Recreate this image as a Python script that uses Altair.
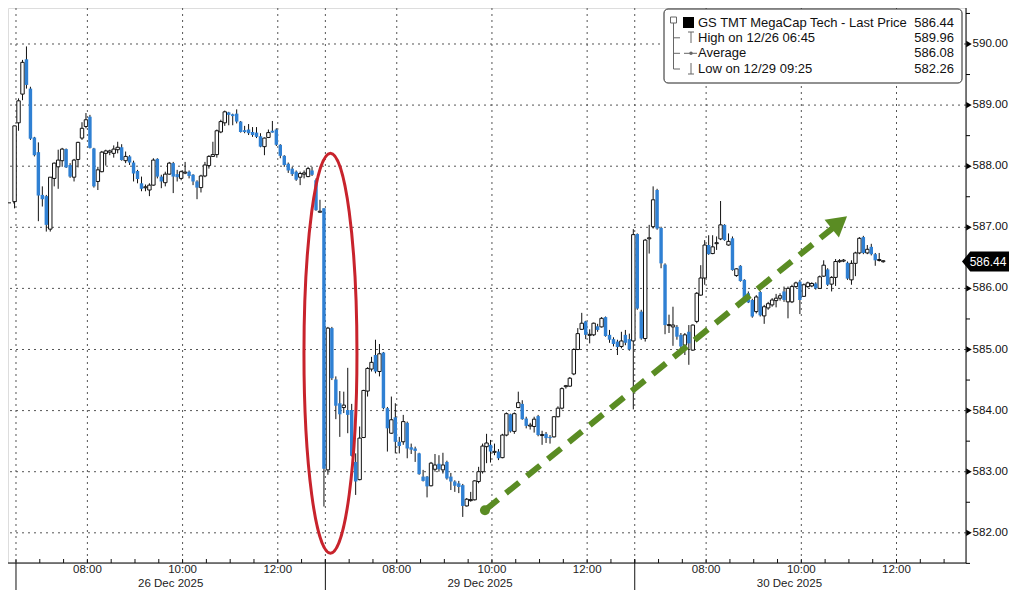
import altair as alt
import pandas as pd

# ---------------- data ----------------
SESSION_DATES = ["26 Dec 2025", "29 Dec 2025", "30 Dec 2025"]
TIME_TICK_LABELS = ["08:00", "10:00", "12:00"]
TIME_TICK_HOURS = [8.0, 10.0, 12.0]
SESSION_OPEN_HOUR = 6.5
SESSION_LENGTH = 6.5
BAR_MINUTES = 5
PRICE_TICKS = [582, 583, 584, 585, 586, 587, 588, 589, 590]
PREV_CLOSE = 587.40
LAST_PRICE = 586.44

LEGEND_LABELS = ["GS TMT MegaCap Tech - Last Price", "High on 12/26 06:45", "Average", "Low on 12/29 09:25"]
LEGEND_VALUES = ["586.44", "589.96", "586.08", "582.26"]

D26_OPEN = [587.42, 588.71, 589.18, 589.75, 589.27, 588.47, 588.23, 587.53, 587.51, 586.97,
            587.80, 587.99, 588.09, 588.28, 588.02, 587.82, 588.11, 588.46, 588.65, 588.81,
            588.29, 587.75, 587.91, 588.21, 588.23, 588.21, 588.27, 588.31, 588.09, 588.16,
            588.06, 587.92, 587.72, 587.66, 587.61, 587.69, 588.12, 587.83, 587.73, 587.87,
            588.05, 587.87, 587.80, 587.89, 587.91, 587.86, 587.75, 587.65, 587.84, 588.01,
            588.16, 588.19, 588.56, 588.71, 588.88, 588.85, 588.86, 588.73, 588.59, 588.60,
            588.56, 588.55, 588.49, 588.32, 588.47, 588.58, 588.60, 588.35, 588.17, 588.04,
            587.96, 587.91, 587.82, 587.87, 587.83, 587.93, 587.77, 587.26]
D26_HIGH = [588.66, 589.11, 589.74, 589.96, 589.30, 588.48, 588.39, 587.67, 587.53, 587.82,
            588.06, 588.27, 588.30, 588.29, 588.05, 588.12, 588.40, 588.72, 588.87, 588.84,
            588.30, 587.99, 588.25, 588.27, 588.27, 588.34, 588.40, 588.36, 588.24, 588.18,
            588.09, 587.94, 587.83, 587.70, 587.72, 588.13, 588.13, 587.86, 587.91, 588.07,
            588.07, 587.94, 587.93, 588.07, 587.93, 587.87, 587.77, 587.86, 588.07, 588.18,
            588.40, 588.60, 588.76, 588.91, 588.89, 588.86, 588.93, 588.74, 588.66, 588.69,
            588.64, 588.64, 588.54, 588.47, 588.60, 588.74, 588.62, 588.36, 588.18, 588.06,
            587.99, 587.93, 587.91, 587.93, 587.99, 587.99, 587.80, 587.45]
D26_LOW = [587.31, 588.58, 589.08, 589.27, 588.43, 588.16, 587.10, 587.34, 586.93, 586.93,
           587.67, 587.63, 587.99, 587.97, 587.81, 587.75, 587.98, 588.43, 588.62, 588.29,
           587.65, 587.61, 587.90, 588.01, 588.18, 588.14, 588.21, 588.09, 588.05, 588.02,
           587.75, 587.72, 587.59, 587.59, 587.51, 587.68, 587.80, 587.64, 587.67, 587.86,
           587.56, 587.75, 587.77, 587.87, 587.80, 587.69, 587.46, 587.57, 587.82, 587.96,
           588.15, 588.14, 588.54, 588.66, 588.67, 588.67, 588.70, 588.55, 588.54, 588.51,
           588.48, 588.46, 588.31, 588.18, 588.46, 588.55, 588.33, 588.13, 587.99, 587.89,
           587.84, 587.76, 587.69, 587.80, 587.82, 587.84, 587.27, 587.24]
D26_CLOSE = [588.66, 589.07, 589.70, 589.33, 588.45, 588.18, 587.52, 587.46, 587.04, 587.82,
             588.05, 588.10, 588.28, 587.98, 587.83, 588.10, 588.39, 588.62, 588.76, 588.30,
             587.67, 587.94, 588.23, 588.25, 588.25, 588.28, 588.31, 588.10, 588.16, 588.06,
             587.88, 587.79, 587.63, 587.65, 587.69, 588.10, 587.83, 587.75, 587.87, 588.05,
             587.83, 587.82, 587.91, 587.90, 587.84, 587.75, 587.65, 587.84, 588.02, 588.16,
             588.19, 588.58, 588.73, 588.89, 588.84, 588.82, 588.73, 588.56, 588.56, 588.54,
             588.51, 588.48, 588.32, 588.46, 588.55, 588.55, 588.35, 588.17, 588.02, 587.93,
             587.87, 587.78, 587.88, 587.89, 587.96, 587.86, 587.28, 587.25]

D29_OPEN = [587.31, 583.03, 585.35, 584.51, 584.12, 584.05, 584.01, 584.01, 583.16, 582.87,
            583.56, 584.32, 584.68, 584.91, 584.64, 584.95, 584.04, 583.63, 583.89, 583.49,
            583.49, 583.80, 583.40, 583.38, 583.30, 582.92, 582.92, 582.77, 583.04, 583.13,
            583.03, 583.16, 582.92, 582.84, 582.81, 582.78, 582.44, 582.54, 582.54, 582.84,
            583.00, 583.41, 583.44, 583.33, 583.33, 583.23, 583.60, 583.94, 583.66, 584.05,
            584.11, 583.87, 583.76, 583.74, 583.91, 583.60, 583.62, 583.57, 583.57, 583.90,
            584.04, 584.40, 584.40, 584.60, 585.00, 585.33, 585.46, 585.24, 585.24, 585.38,
            585.37, 585.53, 585.24, 585.17, 585.13, 585.05, 585.24, 585.17]
D29_HIGH = [587.31, 585.37, 585.37, 584.56, 584.32, 584.31, 584.70, 584.11, 583.30, 583.74,
            584.34, 584.71, 584.88, 585.16, 585.09, 584.96, 584.06, 584.23, 584.12, 583.57,
            583.93, 583.82, 583.46, 583.41, 583.31, 583.03, 582.93, 583.16, 583.29, 583.27,
            583.31, 583.18, 582.98, 582.86, 582.85, 582.80, 582.57, 582.67, 582.86, 583.08,
            583.46, 583.62, 583.52, 583.46, 583.37, 583.62, 583.97, 583.95, 583.97, 584.31,
            584.17, 583.90, 583.80, 583.90, 583.93, 583.67, 583.65, 583.60, 583.91, 584.07,
            584.38, 584.42, 584.55, 585.02, 585.35, 585.60, 585.47, 585.33, 585.44, 585.42,
            585.53, 585.54, 585.32, 585.20, 585.16, 585.29, 585.32, 585.26]
D29_LOW = [582.43, 582.95, 584.50, 583.86, 583.57, 583.96, 583.63, 583.25, 582.62, 582.86,
           583.55, 584.23, 584.64, 584.61, 584.56, 584.02, 583.33, 583.62, 583.30, 583.30,
           583.44, 583.22, 583.29, 583.16, 582.95, 582.84, 582.58, 582.76, 583.00, 583.00,
           582.97, 582.87, 582.70, 582.67, 582.65, 582.26, 582.43, 582.51, 582.53, 582.81,
           582.97, 583.14, 583.15, 583.27, 583.19, 583.22, 583.58, 583.64, 583.62, 584.04,
           583.85, 583.71, 583.69, 583.64, 583.58, 583.44, 583.47, 583.46, 583.56, 583.89,
           584.02, 584.36, 584.39, 584.58, 584.99, 585.32, 585.17, 585.10, 585.22, 585.29,
           585.36, 585.21, 585.11, 585.05, 584.91, 585.02, 585.07, 584.98]
D29_CLOSE = [583.05, 585.35, 584.53, 584.08, 583.94, 584.09, 583.93, 583.26, 582.84, 583.55,
             584.33, 584.69, 584.79, 584.64, 584.93, 584.04, 583.71, 583.85, 583.49, 583.42,
             583.82, 583.38, 583.36, 583.34, 582.96, 582.85, 582.76, 583.14, 583.11, 583.04,
             583.11, 582.89, 582.84, 582.77, 582.75, 582.44, 582.55, 582.53, 582.85, 583.00,
             583.42, 583.47, 583.33, 583.32, 583.22, 583.60, 583.95, 583.66, 583.95, 584.13,
             583.86, 583.75, 583.75, 583.86, 583.60, 583.60, 583.55, 583.55, 583.90, 584.04,
             584.36, 584.40, 584.53, 585.00, 585.26, 585.43, 585.24, 585.24, 585.43, 585.32,
             585.51, 585.22, 585.16, 585.09, 585.04, 585.14, 585.11, 585.00]

D30_OPEN = [585.14, 586.89, 585.62, 585.18, 586.82, 587.01, 587.61, 586.99, 586.39, 585.40,
            585.37, 585.37, 585.24, 585.07, 585.29, 584.99, 585.46, 585.89, 586.17, 586.71,
            586.57, 586.74, 586.81, 587.04, 586.71, 586.82, 586.21, 586.37, 586.14, 585.92,
            585.81, 585.62, 585.94, 585.55, 585.68, 585.73, 585.80, 585.84, 585.95, 585.78,
            585.78, 586.03, 586.11, 585.87, 586.03, 586.04, 586.08, 586.00, 586.20, 586.31,
            586.07, 586.18, 586.44, 586.45, 586.42, 586.14, 586.41, 586.58, 586.84, 586.58,
            586.68, 586.56, 586.47, 586.45]
D30_HIGH = [586.97, 586.90, 585.65, 586.81, 587.04, 587.67, 587.63, 587.01, 586.41, 585.57,
            585.70, 585.40, 585.27, 585.27, 585.40, 585.41, 585.94, 586.38, 586.79, 586.87,
            586.87, 586.85, 587.43, 587.05, 586.90, 586.85, 586.33, 586.38, 586.15, 585.95,
            585.83, 585.89, 585.96, 585.73, 585.78, 585.84, 585.91, 585.92, 586.03, 586.03,
            586.06, 586.11, 586.14, 586.08, 586.11, 586.10, 586.10, 586.21, 586.46, 586.33,
            586.20, 586.48, 586.48, 586.48, 586.44, 586.46, 586.60, 586.84, 586.86, 586.71,
            586.73, 586.58, 586.58, 586.46]
D30_LOW = [584.02, 585.65, 585.16, 585.13, 586.57, 586.98, 586.96, 586.33, 585.25, 585.27,
           585.06, 585.16, 585.02, 584.91, 584.75, 584.98, 585.43, 585.88, 586.06, 586.55,
           586.56, 586.63, 586.79, 586.78, 586.70, 586.29, 586.19, 586.11, 585.83, 585.76,
           585.52, 585.59, 585.54, 585.42, 585.65, 585.70, 585.69, 585.80, 585.78, 585.51,
           585.76, 586.01, 585.58, 585.86, 586.01, 586.02, 585.98, 585.99, 586.19, 586.04,
           585.95, 586.04, 586.42, 586.43, 586.14, 586.06, 586.20, 586.56, 586.56, 586.56,
           586.54, 586.37, 586.44, 586.42]
D30_CLOSE = [586.88, 585.67, 585.18, 586.79, 586.82, 587.45, 586.98, 586.41, 585.40, 585.40,
             585.40, 585.21, 585.05, 585.24, 585.10, 585.40, 585.92, 586.17, 586.71, 586.56,
             586.68, 586.74, 587.04, 586.79, 586.77, 586.30, 586.32, 586.12, 585.84, 585.77,
             585.54, 585.86, 585.56, 585.70, 585.75, 585.81, 585.84, 585.88, 585.81, 586.00,
             586.03, 586.09, 585.81, 586.06, 586.09, 586.08, 586.00, 586.19, 586.38, 586.06,
             586.18, 586.44, 586.45, 586.46, 586.16, 586.41, 586.58, 586.82, 586.58, 586.64,
             586.56, 586.46, 586.46, 586.44]

# annotation anchors (session-hours, price)
ELLIPSE_CENTER = (6.607, 584.94)
ARROW_START = (9.853, 582.37)
ARROW_LINE_END = (17.21, 587.02)
ARROW_HEAD = (17.30, 587.08)

# ---------------- layout / style ----------------
W, H = 958, 555
X_DOMAIN = [-0.168, 19.96]
Y_DOMAIN = [581.506, 590.589]
BAR_SHIFT = -0.03
HALF_BODY = 0.036
BLUE = "#2f80d3"
RED = "#c8232c"
GREEN = "#5a8c23"
FONT = "Liberation Sans"

sessions = [
    (D26_OPEN, D26_HIGH, D26_LOW, D26_CLOSE),
    (D29_OPEN, D29_HIGH, D29_LOW, D29_CLOSE),
    (D30_OPEN, D30_HIGH, D30_LOW, D30_CLOSE),
]
rows = []
for s, (O, Hh, L, C) in enumerate(sessions):
    for j in range(len(O)):
        t = s * SESSION_LENGTH + j * BAR_MINUTES / 60 + BAR_SHIFT
        o, h, l, c = O[j], Hh[j], L[j], C[j]
        top, bot = max(o, c), min(o, c)
        if top - bot < 0.016:
            mid = (top + bot) / 2
            top, bot = mid + 0.008, mid - 0.008
        rows.append(dict(t=t, o=o, h=h, l=l, c=c, top=top, bot=bot,
                         x1=t - HALF_BODY, x2=t + HALF_BODY,
                         up=bool(c >= o - 0.012)))
candles = pd.DataFrame(rows)

xs = alt.Scale(domain=X_DOMAIN, nice=False, zero=False)
ys = alt.Scale(domain=Y_DOMAIN, nice=False, zero=False)


def X(f):
    return alt.X(f, scale=xs, axis=None)


def Y(f):
    return alt.Y(f, scale=ys, axis=None)


dummy = pd.DataFrame({"d": [0]})

# gridlines
grid_t = []
for s in range(3):
    grid_t.append(s * SESSION_LENGTH)
    for hr in TIME_TICK_HOURS:
        grid_t.append(s * SESSION_LENGTH + hr - SESSION_OPEN_HOUR)
vgrid = alt.Chart(pd.DataFrame({"t": grid_t})).mark_rule(
    color="#555", strokeWidth=1, strokeDash=[2, 4]).encode(x=X("t:Q"))
hgrid = alt.Chart(pd.DataFrame({"p": PRICE_TICKS})).mark_rule(
    color="#555", strokeWidth=1, strokeDash=[2, 4]).encode(y=Y("p:Q"))

prev_close = alt.Chart(pd.DataFrame({"t": [X_DOMAIN[0]], "t2": [BAR_SHIFT], "p": [PREV_CLOSE]})).mark_rule(
    color="#111", strokeWidth=1, strokeDash=[3, 2]).encode(x=X("t:Q"), x2="t2:Q", y=Y("p:Q"))

wicks = alt.Chart(candles).mark_rule(color="#111", strokeWidth=1).encode(
    x=X("t:Q"), y=Y("l:Q"), y2="h:Q")
up_body = alt.Chart(candles[candles.up]).mark_rect(fill="white", stroke="#111", strokeWidth=1).encode(
    x=X("x1:Q"), x2="x2:Q", y=Y("top:Q"), y2="bot:Q")
down_body = alt.Chart(candles[~candles.up]).mark_rect(fill=BLUE).encode(
    x=X("x1:Q"), x2="x2:Q", y=Y("top:Q"), y2="bot:Q")

# axis lines
right_line = alt.Chart(dummy).mark_rule(color="black", strokeWidth=1).encode(
    x=alt.value(W), y=alt.value(0), y2=alt.value(H))
bottom_line = alt.Chart(dummy).mark_rule(color="black", strokeWidth=1).encode(
    x=alt.value(0), x2=alt.value(W), y=alt.value(H))

# half-hour ticks on the time axis
half_ticks = [s * SESSION_LENGTH + k * 0.5 for s in range(3) for k in range(14)]
half_ticks = [v for v in half_ticks if v < X_DOMAIN[1]]
xticks = alt.Chart(pd.DataFrame({"t": half_ticks})).mark_rule(color="#111", strokeWidth=1).encode(
    x=X("t:Q"), y=alt.value(H - 4), y2=alt.value(H))

# session separators below axis
sep = alt.Chart(pd.DataFrame({"t": [0.0, SESSION_LENGTH, 2 * SESSION_LENGTH]})).mark_rule(
    color="#111", strokeWidth=1).encode(x=X("t:Q"), y=alt.value(H), y2=alt.value(H + 27))

time_rows = []
for s in range(3):
    for lab, hr in zip(TIME_TICK_LABELS, TIME_TICK_HOURS):
        time_rows.append(dict(t=s * SESSION_LENGTH + hr - SESSION_OPEN_HOUR, label=lab))
time_labels = alt.Chart(pd.DataFrame(time_rows)).mark_text(
    font=FONT, fontSize=11.5, color="#222", baseline="middle", align="center").encode(
    x=X("t:Q"), y=alt.value(H + 7), text="label:N")
date_labels = alt.Chart(pd.DataFrame({
    "t": [s * SESSION_LENGTH + SESSION_LENGTH / 2 for s in range(3)], "label": SESSION_DATES})).mark_text(
    font=FONT, fontSize=11.5, color="#222", baseline="middle", align="center").encode(
    x=X("t:Q"), y=alt.value(H + 20.5), text="label:N")

# price axis: pointer triangles, labels, half-unit ticks
price_df = pd.DataFrame({"p": PRICE_TICKS, "label": [f"{p:.2f}" for p in PRICE_TICKS]})
tri = alt.Chart(price_df).mark_point(
    shape="triangle-right", filled=True, size=40, color="black", opacity=1).encode(
    x=alt.value(W + 3), y=Y("p:Q"))
price_labels = alt.Chart(price_df).mark_text(
    font=FONT, fontSize=11.6, color="#111", align="left", baseline="middle").encode(
    x=alt.value(W + 6.5), y=Y("p:Q"), text="label:N")
half_prices = [p + 0.5 for p in [581] + PRICE_TICKS]
yticks = alt.Chart(pd.DataFrame({"p": half_prices})).mark_rule(color="black", strokeWidth=1).encode(
    x=alt.value(W), x2=alt.value(W + 4), y=Y("p:Q"))

# last price tag
TAG_PATH = "M-1,0 L-0.7,-0.364 L1,-0.364 L1,0.364 L-0.7,0.364 Z"
tag_df = pd.DataFrame({"p": [LAST_PRICE], "label": [f"{LAST_PRICE:.2f}"]})
tag = alt.Chart(tag_df).mark_point(shape=TAG_PATH, filled=True, size=3025, color="black", opacity=1).encode(
    x=alt.value(W + 23.5), y=Y("p:Q"))
tag_text = alt.Chart(tag_df).mark_text(font=FONT, fontSize=12, color="white", align="center",
                                       baseline="middle").encode(
    x=alt.value(W + 22), y=Y("p:Q"), text="label:N")

# red ellipse
k, a = 0.5523, 0.1325
ELLIPSE_PATH = (f"M0,-1 C{k*a:.4f},-1 {a},-{k} {a},0 C{a},{k} {k*a:.4f},1 0,1 "
                f"C-{k*a:.4f},1 -{a},{k} -{a},0 C-{a},-{k} -{k*a:.4f},-1 0,-1 Z")
ellipse = alt.Chart(pd.DataFrame({"t": [ELLIPSE_CENTER[0]], "p": [ELLIPSE_CENTER[1]]})).mark_point(
    shape=ELLIPSE_PATH, size=160000, filled=False, stroke=RED, strokeWidth=3, opacity=1).encode(
    x=X("t:Q"), y=Y("p:Q"))

# green arrow
arrow_line = alt.Chart(pd.DataFrame({"t": [ARROW_START[0], ARROW_LINE_END[0]],
                                     "p": [ARROW_START[1], ARROW_LINE_END[1]]})).mark_line(
    color=GREEN, strokeWidth=6, strokeDash=[17, 10], strokeCap="butt").encode(x=X("t:Q"), y=Y("p:Q"))
arrow_dot = alt.Chart(pd.DataFrame({"t": [ARROW_START[0]], "p": [ARROW_START[1]]})).mark_point(
    shape="circle", filled=True, size=100, color=GREEN, opacity=1).encode(x=X("t:Q"), y=Y("p:Q"))
arrow_head = alt.Chart(pd.DataFrame({"t": [ARROW_HEAD[0]], "p": [ARROW_HEAD[1]]})).mark_point(
    shape="triangle-up", filled=True, size=520, angle=51, color=GREEN, opacity=1).encode(
    x=X("t:Q"), y=Y("p:Q"))

# legend box
leg_box = alt.Chart(dummy).mark_rect(fill="white", stroke="#222", strokeWidth=1, cornerRadius=4).encode(
    x=alt.value(656), x2=alt.value(954), y=alt.value(1), y2=alt.value(75))
leg_square = alt.Chart(dummy).mark_rect(fill="black").encode(
    x=alt.value(675), x2=alt.value(686), y=alt.value(9), y2=alt.value(20))
ROW_Y = [14.7, 29.8, 45.3, 61.0]
leg_df = pd.DataFrame({"label": LEGEND_LABELS, "value": LEGEND_VALUES, "ypx": ROW_Y})
leg_text = alt.Chart(leg_df).mark_text(font=FONT, fontSize=13, color="#111", align="left",
                                       baseline="middle").encode(
    x=alt.value(690), y=alt.Y("ypx:Q", scale=None, axis=None), text="label:N")
leg_vals = alt.Chart(leg_df).mark_text(font=FONT, fontSize=13, color="#111", align="right",
                                       baseline="middle").encode(
    x=alt.value(946), y=alt.Y("ypx:Q", scale=None, axis=None), text="value:N")
segs = pd.DataFrame([
    dict(x=665.5, x2=665.5, y=14, y2=61),      # tree trunk
    dict(x=665.5, x2=672, y=29.8, y2=29.8),
    dict(x=665.5, x2=672, y=45.3, y2=45.3),
    dict(x=665.5, x2=672, y=61, y2=61),
    dict(x=680, x2=686, y=24, y2=24),          # high icon
    dict(x=683, x2=683, y=24, y2=35),
    dict(x=676, x2=689, y=45.3, y2=45.3),      # average icon
    dict(x=683, x2=683, y=55, y2=66),          # low icon
    dict(x=680, x2=686, y=66, y2=66),
])
leg_segs = alt.Chart(segs).mark_rule(color="#666", strokeWidth=1).encode(
    x=alt.X("x:Q", scale=None, axis=None), x2="x2:Q", y=alt.Y("y:Q", scale=None, axis=None), y2="y2:Q")
tree_box = alt.Chart(dummy).mark_rect(fill="white", stroke="#666", strokeWidth=1).encode(
    x=alt.value(662.5), x2=alt.value(668.5), y=alt.value(9), y2=alt.value(15))
avg_dot = alt.Chart(dummy).mark_point(shape="circle", filled=True, size=12, color="#666", opacity=1).encode(
    x=alt.value(683), y=alt.value(45.3))

chart = alt.layer(
    vgrid, hgrid, prev_close, wicks, up_body, down_body,
    right_line, bottom_line, xticks, sep, time_labels, date_labels,
    ellipse, arrow_line, arrow_dot, arrow_head,
    leg_box, leg_segs, tree_box, leg_square, avg_dot, leg_text, leg_vals,
    yticks, tri, price_labels, tag, tag_text,
).properties(
    width=W, height=H,
    autosize=alt.AutoSizeParams(type="none"),
    padding={"left": 0, "top": 0, "right": 43, "bottom": 27},
).configure_view(stroke=None).configure(background="white")

chart.save("out.html", embed_options={"renderer": "svg", "actions": False})
